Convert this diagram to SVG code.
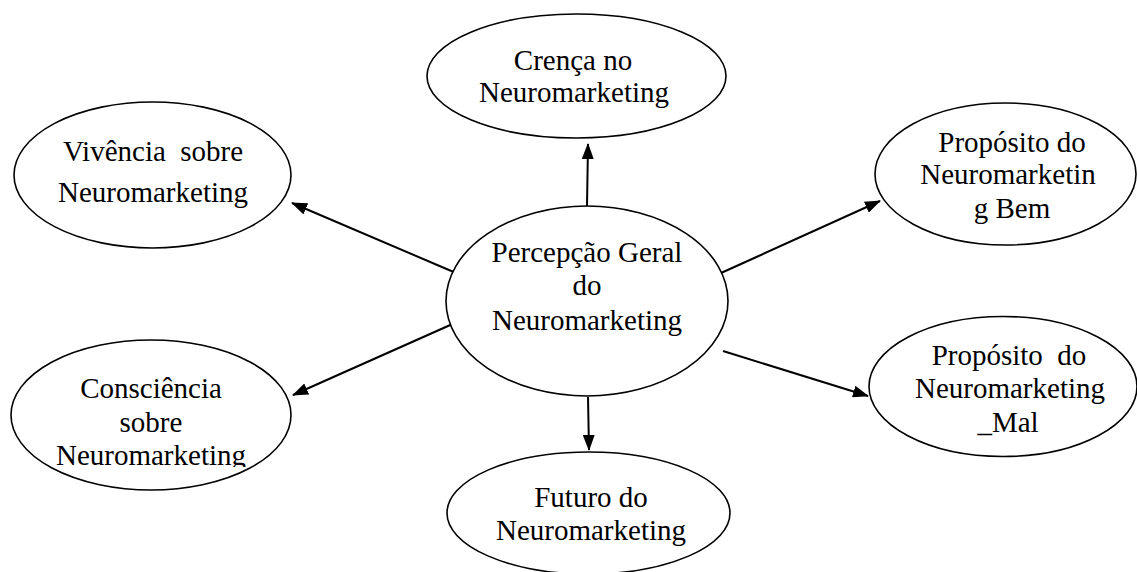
<svg xmlns="http://www.w3.org/2000/svg" width="1137" height="572" viewBox="0 0 1137 572">
<style>
.n{fill:#fff;stroke:#000;stroke-width:1.6}
.t{font-family:"Liberation Serif","Times New Roman",serif;font-size:29px;fill:#000;text-anchor:middle}
.c{stroke:#000;stroke-width:2;fill:none;marker-end:url(#ah)}
</style>
<defs>
<marker id="ah" viewBox="0 0 16 12" refX="15" refY="6" markerWidth="16" markerHeight="12" markerUnits="userSpaceOnUse" orient="auto">
<path d="M0,0 L16,6 L0,12 z" fill="#000"/>
</marker>
<clipPath id="cc"><rect x="0" y="0" width="1137" height="467"/></clipPath>
</defs>
<rect width="1137" height="572" fill="#fff"/>
<g id="connectors">
<path class="c" d="M587,206 L588,144"/>
<path class="c" d="M456,273 L292,203"/>
<path class="c" d="M457,322 L293,395"/>
<path class="c" d="M721,273 L880,201"/>
<path class="c" d="M723,351 L868,396"/>
<path class="c" d="M588,397 L589,450"/>
</g>
<g id="center">
<ellipse class="n" cx="587" cy="301" rx="141" ry="95"/>
<text class="t" x="587" y="262">Percepção Geral</text>
<text class="t" x="587" y="295">do</text>
<text class="t" x="587" y="330">Neuromarketing</text>
</g>
<g id="crenca">
<ellipse class="n" cx="576.5" cy="76" rx="149.5" ry="62"/>
<text class="t" x="573" y="70">Crença no</text>
<text class="t" x="574" y="102">Neuromarketing</text>
</g>
<g id="vivencia">
<ellipse class="n" cx="152.5" cy="175" rx="138.5" ry="73"/>
<text class="t" x="153" y="161" xml:space="preserve">Vivência  sobre</text>
<text class="t" x="153" y="202">Neuromarketing</text>
</g>
<g id="proposito-bem">
<ellipse class="n" cx="1005.5" cy="174" rx="130.5" ry="71"/>
<text class="t" x="1012" y="152">Propósito do</text>
<text class="t" x="1008" y="184">Neuromarketin</text>
<text class="t" x="1012" y="218">g Bem</text>
</g>
<g id="consciencia">
<ellipse class="n" cx="151" cy="415" rx="140" ry="75"/>
<text class="t" x="151" y="398">Consciência</text>
<text class="t" x="151" y="432">sobre</text>
<text class="t" x="151" y="465" clip-path="url(#cc)">Neuromarketing</text>
</g>
<g id="proposito-mal">
<ellipse class="n" cx="1003" cy="386.5" rx="134" ry="70"/>
<text class="t" x="1009" y="365" xml:space="preserve">Propósito  do</text>
<text class="t" x="1010" y="398">Neuromarketing</text>
<text class="t" x="1008" y="432">_Mal</text>
</g>
<g id="futuro">
<ellipse class="n" cx="588.5" cy="513" rx="141.5" ry="61"/>
<text class="t" x="591" y="507">Futuro do</text>
<text class="t" x="591" y="540">Neuromarketing</text>
</g>
</svg>
